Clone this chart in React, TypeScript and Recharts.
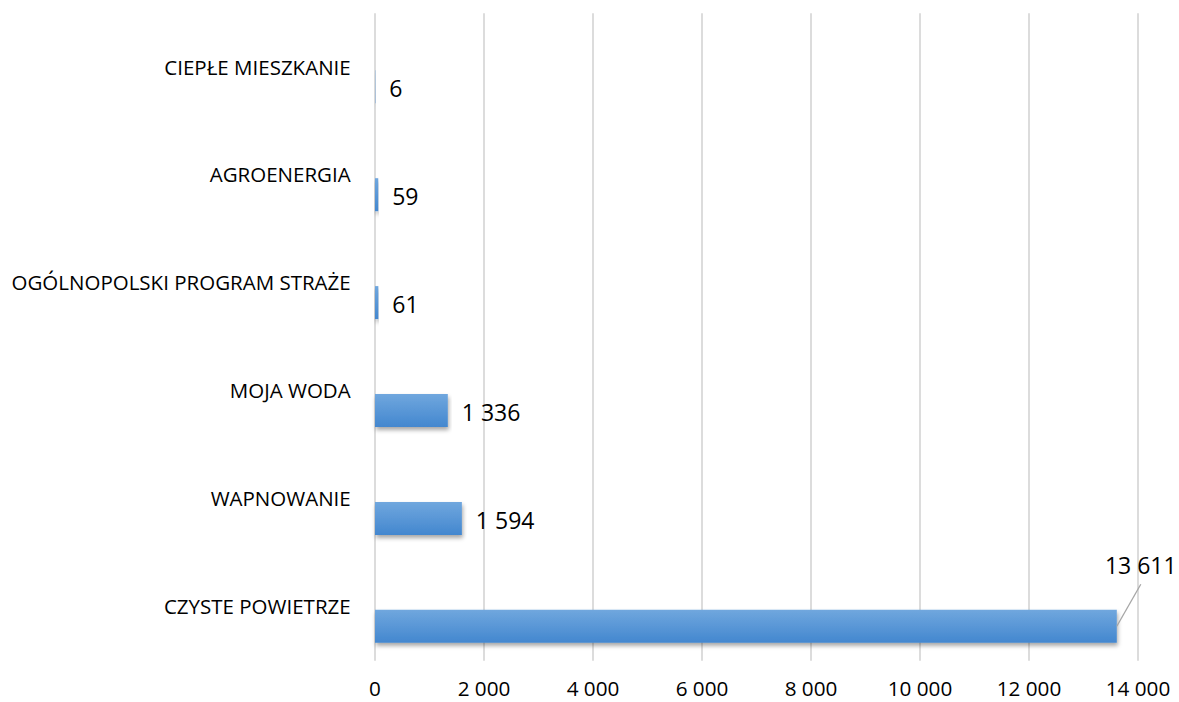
import React from 'react';
import { BarChart, Bar, XAxis, YAxis, CartesianGrid, LabelList } from 'recharts';

const categories = [
  'CIEPŁE MIESZKANIE',
  'AGROENERGIA',
  'OGÓLNOPOLSKI PROGRAM STRAŻE',
  'MOJA WODA',
  'WAPNOWANIE',
  'CZYSTE POWIETRZE',
];
const values = [6, 59, 61, 1336, 1594, 13611];
const xTicks = [0, 2000, 4000, 6000, 8000, 10000, 12000, 14000];

const data = categories.map((name, i) => ({ name, value: values[i] }));

const fmt = (v: number) => String(v).replace(/\B(?=(\d{3})+(?!\d))/g, ' ');

const FONT = '"Open Sans", sans-serif';

const DataLabel = (props: any) => {
  const vb = props.viewBox || props;
  const x = Number(vb.x);
  const y = Number(vb.y);
  const w = Number(vb.width);
  const h = Number(vb.height);
  const v = Number(props.value);
  const maxV = Math.max(...values);
  const endX = x + w;
  const cy = y + h / 2;
  if (v === maxV) {
    return (
      <g>
        <line x1={endX} y1={cy} x2={endX + 24} y2={cy - 42} stroke="#a6a6a6" strokeWidth={1.3} />
        <text
          x={endX + 24}
          y={cy - 61}
          textAnchor="middle"
          dominantBaseline="central"
          fontFamily={FONT}
          fontSize={23}
          fill="#000"
        >
          {fmt(v)}
        </text>
      </g>
    );
  }
  return (
    <text
      x={endX + 14}
      y={cy + 1.5}
      textAnchor="start"
      dominantBaseline="central"
      fontFamily={FONT}
      fontSize={23}
      fill="#000"
    >
      {fmt(v)}
    </text>
  );
};

export default function App() {
  return (
    <div style={{ position: 'absolute', left: 0, top: 0, width: 1179, height: 702, background: '#fff' }}>
      <BarChart
        width={1179}
        height={702}
        data={data}
        layout="vertical"
        margin={{ top: 13.3, right: 41, left: 0, bottom: 0 }}
        barSize={33}
        barGap={7}
      >
        <defs>
          <linearGradient id="barGrad" x1="0" y1="0" x2="0" y2="1">
            <stop offset="0%" stopColor="#70a7de" />
            <stop offset="100%" stopColor="#4387cf" />
          </linearGradient>
          <filter id="barShadow" x="-5%" y="-30%" width="110%" height="180%">
            <feDropShadow dx="1" dy="3" stdDeviation="2.2" floodColor="#000" floodOpacity="0.35" />
          </filter>
        </defs>
        <CartesianGrid horizontal={false} vertical={true} stroke="#d9d9d9" strokeWidth={1.8} />
        <XAxis
          type="number"
          domain={[0, 14000]}
          ticks={xTicks}
          tickFormatter={fmt}
          axisLine={false}
          tickLine={false}
          height={41.3}
          tickMargin={15}
          interval={0}
          tick={{ fontFamily: FONT, fontSize: 20.7, fill: '#000' }}
        />
        <YAxis
          type="category"
          dataKey="name"
          width={375}
          axisLine={false}
          tickLine={false}
          tickMargin={18.3}
          interval={0}
          tick={{ fontFamily: FONT, fontSize: 20.5, fill: '#000' }}
        />
        <Bar dataKey="spacer" fill="none" isAnimationActive={false} legendType="none" />
        <Bar
          dataKey="value"
          fill="url(#barGrad)"
          filter="url(#barShadow)"
          isAnimationActive={false}
        >
          <LabelList dataKey="value" content={DataLabel} />
        </Bar>
      </BarChart>
    </div>
  );
}
